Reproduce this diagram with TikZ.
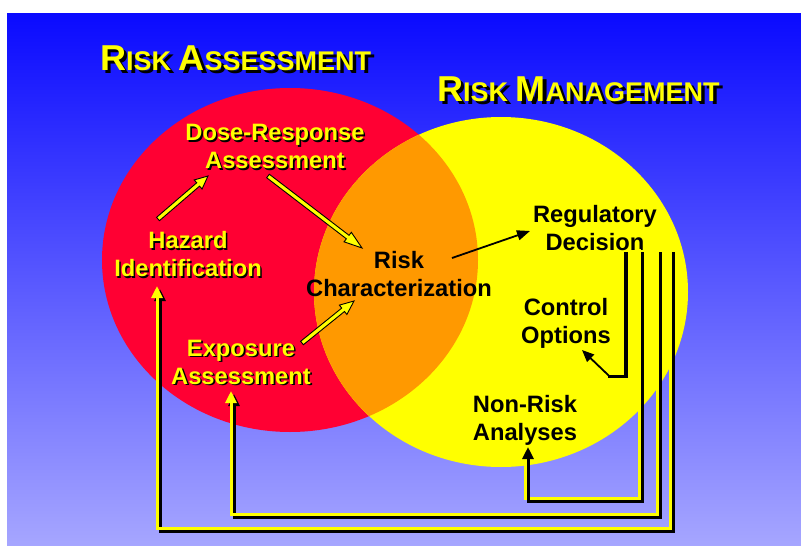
\documentclass[tikz,border=0pt]{standalone}
\usepackage{fontspec}
\setmainfont{Liberation Sans}
\usetikzlibrary{calc,arrows.meta}

\definecolor{bgtop}{RGB}{10,10,255}
\definecolor{bgbot}{RGB}{166,166,255}
\definecolor{rared}{RGB}{255,0,51}
\definecolor{rmyellow}{RGB}{255,255,0}
\definecolor{overlap}{RGB}{255,153,0}

% fake small capitals for the two headings
\newcommand\capword[2]{{\fontsize{36}{40}\selectfont #1}{\fontsize{27}{30}\selectfont #2}}
\newcommand\capgap{\hspace{7.5pt}}

% yellow label with a small black drop shadow
\newcommand\shadowlabel[3]{%
  \node[lbl, text=black] at ([shift={(1.6,1.6)}]#2) {#3};
  \node[lbl, text=rmyellow] (#1) at (#2) {#3};}

% yellow feedback line with a black drop shadow
\newcommand\feedback[1]{%
  \draw[fbline, draw=black, transform canvas={shift={(3pt,-3pt)}}] #1;
  \draw[fbline] #1;}
% same, with the black copy laid over the yellow one
\newcommand\feedbackover[1]{%
  \draw[fbline] #1;
  \draw[fbline, draw=black, transform canvas={shift={(3pt,-3pt)}}] #1;}

\begin{document}
\begin{tikzpicture}[x=1pt,y=-1pt,
  lbl/.style={font=\bfseries\fontsize{23.7}{28}\selectfont, align=center, inner sep=0pt},
  blk/.style={lbl, text=black},
  heading/.style={font=\bfseries, anchor=base west, inner sep=0pt},
  fbline/.style={draw=rmyellow, line width=3pt, line join=miter,
    -{Triangle[length=12pt,width=11pt]}},
  blockarrow/.style={draw=black, fill=rmyellow, line width=0.9pt, line join=miter,
    to path={
      ($(\tikztostart)!2.2pt!90:(\tikztotarget)$)
      -- ($(\tikztotarget)!#1!(\tikztostart)!2.2pt!90:(\tikztotarget)$)
      -- ($(\tikztotarget)!#1!(\tikztostart)!6pt!90:(\tikztotarget)$)
      -- (\tikztotarget)
      -- ($(\tikztotarget)!#1!(\tikztostart)!6pt!-90:(\tikztotarget)$)
      -- ($(\tikztotarget)!#1!(\tikztostart)!2.2pt!-90:(\tikztotarget)$)
      -- ($(\tikztostart)!2.2pt!-90:(\tikztotarget)$)
      -- cycle}},
]
\useasboundingbox (0,0) rectangle (801,546);

% slide background
\shade[top color=bgtop, bottom color=bgbot] (7,13) rectangle (801,546);

% the two overlapping fields
\fill[rared] (290,260) ellipse [x radius=188pt, y radius=172pt];
\fill[rmyellow] (501,292) ellipse [x radius=187pt, y radius=175pt];
\begin{scope}
  \clip (290,260) ellipse [x radius=188pt, y radius=172pt];
  \fill[overlap] (501,292) ellipse [x radius=187pt, y radius=175pt];
\end{scope}

% headings
\node[heading, text=black] at (103.5,73.5) {\capword{R}{ISK}\capgap\capword{A}{SSESSMENT}};
\node[heading, text=rmyellow] (ra) at (100,70) {\capword{R}{ISK}\capgap\capword{A}{SSESSMENT}};
\node[heading, text=black] at (440.5,104.5) {\capword{R}{ISK}\capgap\capword{M}{ANAGEMENT}};
\node[heading, text=rmyellow] (rm) at (437,101) {\capword{R}{ISK}\capgap\capword{M}{ANAGEMENT}};

% assessment steps
\shadowlabel{haz}{188,254}{Hazard\\Identification}
\shadowlabel{dose}{275,146.5}{Dose-Response\\Assessment}
\shadowlabel{expo}{241,362}{Exposure\\Assessment}

% management steps
\node[blk] (risk) at (399,274.5) {Risk\\Characterization};
\node[blk] (reg) at (595,228.5) {Regulatory\\Decision};
\node[blk] (ctrl) at (566,323.5) {Control\\Options};
\node[blk] (nonrisk) at (525,420.5) {Non-Risk\\Analyses};

% flow inside the assessment
\coordinate (hd1) at ([shift={(-30,-35)}]haz.center);
\coordinate (hd2) at ([shift={(-67,29.5)}]dose.center);
\coordinate (dr1) at ([shift={(-7,29.5)}]dose.center);
\coordinate (dr2) at ([shift={(-37,-26.5)}]risk.center);
\coordinate (er1) at ([shift={(61,-19)}]expo.center);
\coordinate (er2) at ([shift={(-45,26.5)}]risk.center);
\draw[blockarrow=13pt] (hd1) to (hd2);
\draw[blockarrow=18pt] (dr1) to (dr2);
\draw[blockarrow=14pt] (er1) to (er2);

% characterization feeds the decision
\draw[line width=1.8pt, -{Triangle[length=13pt,width=10pt]}]
  ([shift={(53,-16.5)}]risk.center) -- ([shift={(-65,2.5)}]reg.center);

% decision to control options (inside the yellow field, drawn in black)
\coordinate (cbend) at ([shift={(42,53)}]ctrl.center);
\draw[line width=3.5pt, line join=miter] ([shift={(31,23.5)}]reg.center) |- (cbend);
\draw[line width=1.8pt, -{Triangle[length=12pt,width=10pt]}]
  ([xshift=1.7pt]cbend) -- ([shift={(16,26.5)}]ctrl.center);

% feedback from the decision
\feedbackover{([shift={(44,20.5)}]reg.center) |- ([shift={(0,77.5)}]nonrisk.center) -- ([shift={(0,23.5)}]nonrisk.center)}
\feedback{([shift={(62,20.5)}]reg.center) |- ([shift={(-10,152)}]expo.center) -- ([shift={(-10,29)}]expo.center)}
\feedback{([shift={(75,20.5)}]reg.center) |- ([shift={(-31,274)}]haz.center) -- ([shift={(-31,32)}]haz.center)}
\end{tikzpicture}
\end{document}
